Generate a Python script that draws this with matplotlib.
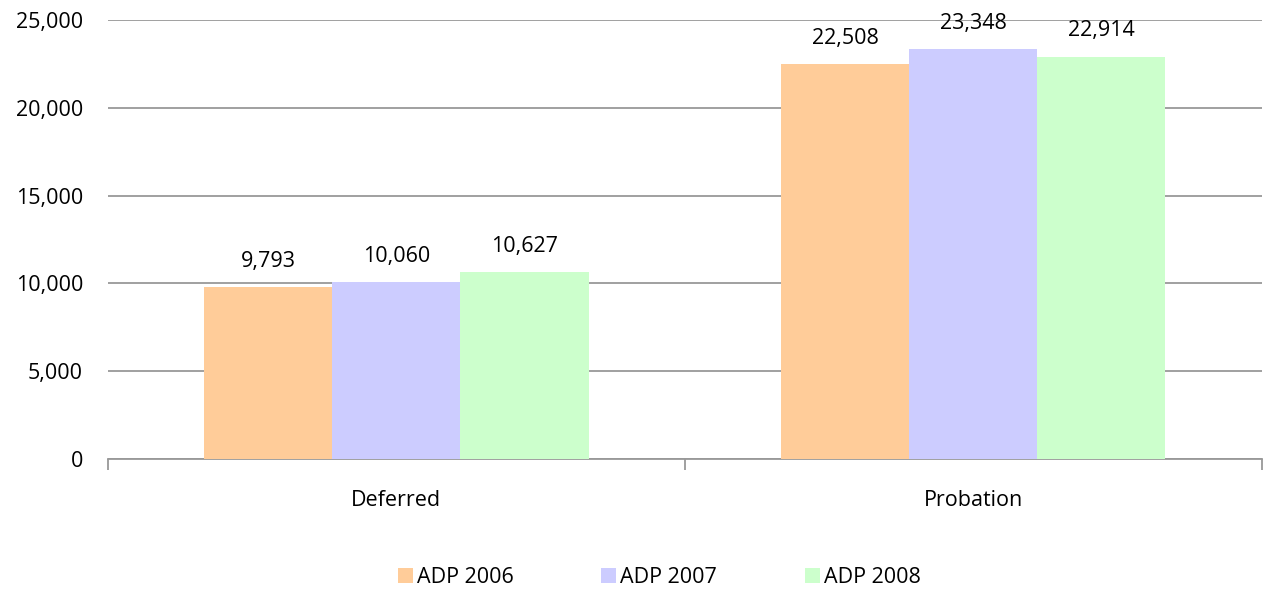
import matplotlib
matplotlib.use("Agg")
import matplotlib.pyplot as plt
import numpy as np
from matplotlib.ticker import FuncFormatter, FixedLocator

categories = ["Deferred", "Probation"]
series_names = ["ADP 2006", "ADP 2007", "ADP 2008"]
adp_2006 = [9793, 22508]
adp_2007 = [10060, 23348]
adp_2008 = [10627, 22914]
series_values = [adp_2006, adp_2007, adp_2008]
colors = ["#FFCC99", "#CCCCFF", "#CCFFCC"]

plt.rcParams["font.family"] = ["Open Sans", "DejaVu Sans"]
FS = 15.5

fig = plt.figure(figsize=(12.63, 5.89), dpi=100)
ax = fig.add_axes([0.0855, 0.2207, 0.9135, 0.7453])

x = np.arange(len(categories))
width = 0.222
offsets = [-width, 0, width]
for name, vals, off, col in zip(series_names, series_values, offsets, colors):
    bars = ax.bar(x + off, vals, width=width, color=col, label=name, zorder=3)
    for b, v in zip(bars, vals):
        ax.annotate(f"{v:,}", (b.get_x() + b.get_width() / 2, v),
                    xytext=(0, 11), textcoords="offset points",
                    ha="center", va="bottom", fontsize=FS, color="black")

ax.set_xlim(-0.5, len(categories) - 0.5)
ax.set_ylim(0, 25000)
ax.set_yticks(np.arange(0, 25001, 5000))
ax.yaxis.set_major_formatter(FuncFormatter(lambda v, p: f"{int(v):,}"))
ax.grid(axis="y", color="#999999", linewidth=1.3, zorder=0)
ax.tick_params(axis="y", length=0, pad=18, labelsize=FS)

ax.xaxis.set_major_locator(FixedLocator([-0.5, 0.5, 1.5]))
ax.xaxis.set_minor_locator(FixedLocator(list(x)))
ax.set_xticklabels([], minor=False)
ax.set_xticklabels(categories, minor=True)
ax.tick_params(axis="x", which="major", length=8, width=1.3, color="#999999")
ax.tick_params(axis="x", which="minor", length=0, pad=22, labelsize=FS)

for s in ["top", "right", "left"]:
    ax.spines[s].set_visible(False)
ax.spines["bottom"].set_color("#999999")
ax.spines["bottom"].set_linewidth(1.3)

fig.legend(loc="center", bbox_to_anchor=(0.522, 0.02), ncol=3, frameon=False,
           fontsize=FS, handlelength=0.7, handleheight=0.7, handletextpad=0.2,
           columnspacing=4.05, borderaxespad=0)

fig.savefig("out.png", dpi=100, facecolor="white")
